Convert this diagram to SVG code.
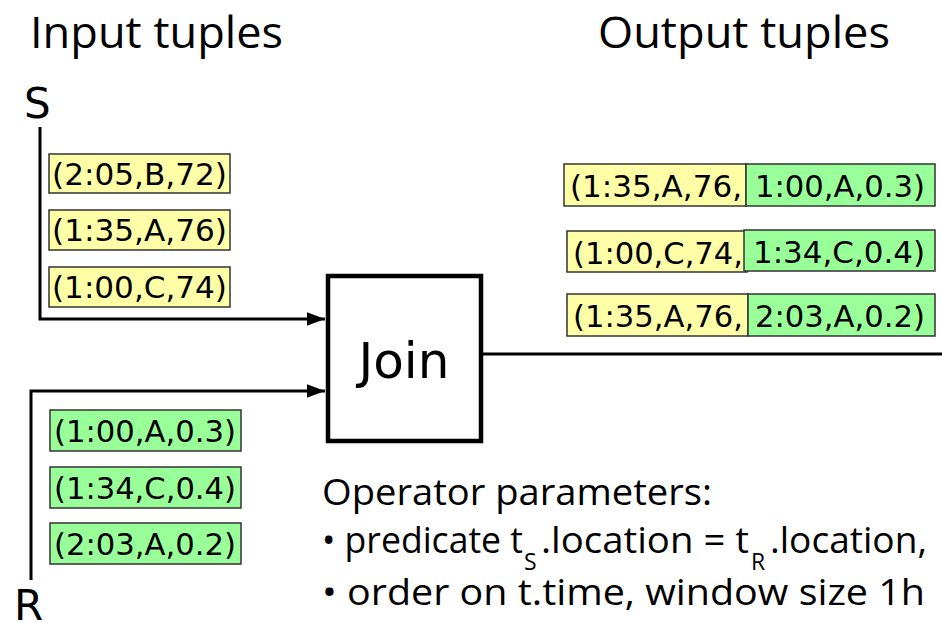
<svg xmlns="http://www.w3.org/2000/svg" width="942" height="623" viewBox="0 0 942 623">
<style>
.title{font-family:"Open Sans","DejaVu Sans",sans-serif;font-size:44px;fill:#000}
.lbl{font-family:"DejaVu Sans","Liberation Sans",sans-serif;font-size:42px;fill:#000}
.tup{font-family:"DejaVu Sans","Liberation Sans",sans-serif;font-size:31px;fill:#000}
.y{fill:#ffffa8;stroke:#333;stroke-width:1.5}
.g{fill:#99ff99;stroke:#333;stroke-width:1.5}
.conn{fill:none;stroke:#000;stroke-width:3}
.par{font-family:"Open Sans","DejaVu Sans",sans-serif;font-size:36px;fill:#000}
.sub{font-family:"Open Sans","DejaVu Sans",sans-serif;font-size:23px;fill:#000}
</style>
<defs>
<marker id="ah" viewBox="0 0 10 10" refX="10" refY="5" markerWidth="6" markerHeight="4.5" markerUnits="strokeWidth" orient="auto" preserveAspectRatio="none">
<path d="M0,0 L10,5 L0,10 Z" fill="#000"/>
</marker>
</defs>
<rect width="942" height="623" fill="#fff"/>
<text class="title" x="30" y="48" textLength="253" lengthAdjust="spacingAndGlyphs">Input tuples</text>
<text class="title" x="598" y="48" textLength="292" lengthAdjust="spacingAndGlyphs">Output tuples</text>
<g id="connectors">
<path class="conn" d="M40,127 V319 H325" marker-end="url(#ah)"/>
<path class="conn" d="M31,580 V391 H325" marker-end="url(#ah)"/>
<path class="conn" d="M483,354 H942"/>
</g>
<g id="S"><text class="lbl" x="24" y="118">S</text></g>
<g id="R"><text class="lbl" x="14" y="620">R</text></g>
<g id="s1"><rect class="y" x="49" y="154" width="181" height="39"/><text class="tup" x="52" y="185" textLength="175" lengthAdjust="spacingAndGlyphs">(2:05,B,72)</text></g>
<g id="s2"><rect class="y" x="49" y="210" width="181" height="40"/><text class="tup" x="52" y="241" textLength="175" lengthAdjust="spacingAndGlyphs">(1:35,A,76)</text></g>
<g id="s3"><rect class="y" x="49" y="267" width="181" height="40"/><text class="tup" x="52" y="298" textLength="175" lengthAdjust="spacingAndGlyphs">(1:00,C,74)</text></g>
<g id="r1"><rect class="g" x="50" y="410" width="191" height="41"/><text class="tup" x="54" y="442" textLength="182" lengthAdjust="spacingAndGlyphs">(1:00,A,0.3)</text></g>
<g id="r2"><rect class="g" x="50" y="467" width="191" height="41"/><text class="tup" x="54" y="499" textLength="182" lengthAdjust="spacingAndGlyphs">(1:34,C,0.4)</text></g>
<g id="r3"><rect class="g" x="50" y="523" width="191" height="41"/><text class="tup" x="54" y="555" textLength="182" lengthAdjust="spacingAndGlyphs">(2:03,A,0.2)</text></g>
<g id="join"><rect x="328" y="276" width="153" height="165" fill="#fff" stroke="#000" stroke-width="4.5"/><text x="404" y="378" text-anchor="middle" font-family="DejaVu Sans, sans-serif" font-size="50">Join</text></g>
<g id="o1"><rect class="y" x="564" y="164" width="182" height="42"/><rect class="g" x="746" y="164" width="189" height="42"/><text class="tup" x="570" y="197" textLength="172" lengthAdjust="spacingAndGlyphs">(1:35,A,76,</text><text class="tup" x="755" y="197" textLength="170" lengthAdjust="spacingAndGlyphs">1:00,A,0.3)</text></g>
<g id="o2"><rect class="y" x="567" y="231" width="180" height="41"/><rect class="g" x="744" y="230" width="191" height="41"/><text class="tup" x="573" y="264" textLength="170" lengthAdjust="spacingAndGlyphs">(1:00,C,74,</text><text class="tup" x="753" y="263" textLength="172" lengthAdjust="spacingAndGlyphs">1:34,C,0.4)</text></g>
<g id="o3"><rect class="y" x="567" y="294" width="181" height="42"/><rect class="g" x="748" y="294" width="187" height="42"/><text class="tup" x="573" y="327" textLength="170" lengthAdjust="spacingAndGlyphs">(1:35,A,76,</text><text class="tup" x="755" y="327" textLength="170" lengthAdjust="spacingAndGlyphs">2:03,A,0.2)</text></g>
<g id="params">
<text class="par" x="322" y="505" textLength="390" lengthAdjust="spacingAndGlyphs">Operator parameters:</text>
<text class="par" x="322" y="553" textLength="201" lengthAdjust="spacingAndGlyphs">• predicate t</text>
<text class="sub" x="524" y="570">S</text>
<text class="par" x="541" y="553" textLength="208" lengthAdjust="spacingAndGlyphs">.location = t</text>
<text class="sub" x="751" y="570">R</text>
<text class="par" x="770" y="553" textLength="157" lengthAdjust="spacingAndGlyphs">.location,</text>
<text class="par" x="322" y="605" textLength="603" lengthAdjust="spacingAndGlyphs">• order on t.time, window size 1h</text>
</g>
</svg>
